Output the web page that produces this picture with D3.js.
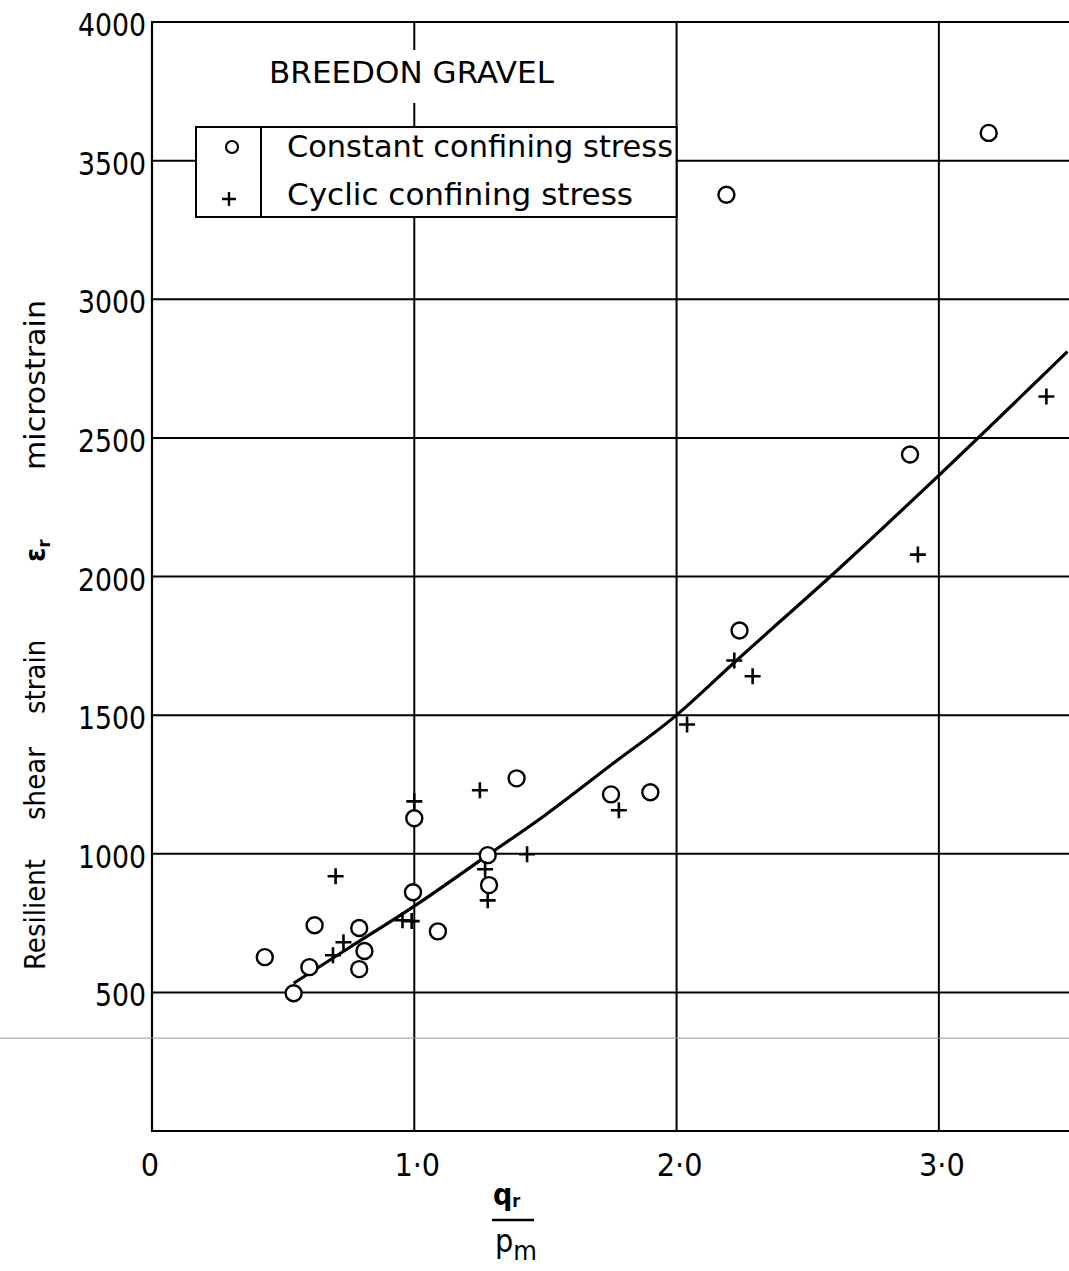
<!DOCTYPE html>
<html>
<head>
<meta charset="utf-8">
<script src="https://cdn.jsdelivr.net/npm/d3@7"></script>
<style>
  body { margin: 0; background: white; }
  svg { display: block; }
  text { font-family: "DejaVu Sans Condensed", "DejaVu Sans", sans-serif; fill: black; }
</style>
</head>
<body>
<svg id="chart" width="1069" height="1271"></svg>
<script>
// values
const constantX = [0.43, 0.60, 0.62, 0.54, 0.79, 0.81, 0.79, 1.00, 0.995, 1.09, 1.28, 1.285, 1.39, 1.75, 1.90, 2.24, 2.19, 2.89, 3.19];
const constantY = [627, 591, 742, 497, 732, 649, 584, 1128, 861, 720, 995, 887, 1272, 1214, 1222, 1805, 3377, 2440, 3600];

const cyclicX = [0.69, 0.73, 0.70, 0.955, 0.99, 1.00, 1.25, 1.27, 1.28, 1.43, 1.78, 2.04, 2.22, 2.29, 2.92, 3.41];
const cyclicY = [634, 681, 919, 760, 757, 1189, 1229, 944, 832, 998, 1157, 1466, 1697, 1640, 2079, 2649];

const fitX = [0.54, 0.75, 1.0, 1.28, 1.5, 1.75, 2.0, 2.22, 2.62, 3.0, 3.49];
const fitY = [533, 660, 811, 995, 1140, 1320, 1500, 1690, 2029, 2365, 2811];

const xTicks = [0, 1, 2, 3];
const xTickLabels = ["0", "1·0", "2·0", "3·0"];
const yTicks = [500, 1000, 1500, 2000, 2500, 3000, 3500, 4000];
const yGrid = [500, 1000, 1500, 2000, 2500, 3000, 3500];

const svg = d3.select("#chart");

const x = d3.scaleLinear().domain([0, 3.5]).range([152, 1070]);
const y = d3.scaleLinear().domain([0, 4000]).range([1131, 22]);

const plot = svg.append("g");

// grid
plot.selectAll(".vgrid").data(xTicks.slice(1))
  .enter().append("line")
  .attr("x1", d => x(d)).attr("x2", d => x(d))
  .attr("y1", y(4000)).attr("y2", y(0))
  .attr("stroke", "black").attr("stroke-width", 2);

plot.selectAll(".hgrid").data(yGrid)
  .enter().append("line")
  .attr("x1", x(0)).attr("x2", 1069)
  .attr("y1", d => y(d)).attr("y2", d => y(d))
  .attr("stroke", "black").attr("stroke-width", 2);

// frame (left, top, bottom)
plot.append("path")
  .attr("d", `M1069,${y(4000)}H${x(0)}V${y(0)}H1069`)
  .attr("fill", "none").attr("stroke", "black").attr("stroke-width", 2.2);

// stray scan line
svg.append("line")
  .attr("x1", 0).attr("x2", 1069)
  .attr("y1", y(335)).attr("y2", y(335))
  .attr("stroke", "#9a9a9a").attr("stroke-width", 1);

// title with gap in the gridline
plot.append("rect")
  .attr("x", 262).attr("y", 50).attr("width", 300).attr("height", 53)
  .attr("fill", "white");
plot.append("text")
  .attr("x", 269).attr("y", 83)
  .attr("font-size", 30)
  .attr("textLength", 285).attr("lengthAdjust", "spacingAndGlyphs")
  .text("BREEDON  GRAVEL");

// legend
const leg = plot.append("g");
leg.append("rect")
  .attr("x", 196).attr("y", 127).attr("width", x(2) - 196).attr("height", 90)
  .attr("fill", "white").attr("stroke", "black").attr("stroke-width", 2);
leg.append("line")
  .attr("x1", 261).attr("x2", 261).attr("y1", 127).attr("y2", 217)
  .attr("stroke", "black").attr("stroke-width", 2);
leg.append("circle")
  .attr("cx", 232).attr("cy", 147).attr("r", 6)
  .attr("fill", "none").attr("stroke", "black").attr("stroke-width", 2.2);
leg.append("path")
  .attr("d", "M222,199H236M229,192V206")
  .attr("stroke", "black").attr("stroke-width", 2.4);
leg.append("text")
  .attr("x", 287).attr("y", 157).attr("font-size", 30)
  .attr("textLength", 386).attr("lengthAdjust", "spacingAndGlyphs")
  .text("Constant  confining  stress");
leg.append("text")
  .attr("x", 287).attr("y", 205).attr("font-size", 30)
  .attr("textLength", 346).attr("lengthAdjust", "spacingAndGlyphs")
  .text("Cyclic  confining  stress");

// fitted curve
const fit = fitX.map((d, i) => [d, fitY[i]]);
plot.append("path")
  .datum(fit)
  .attr("d", d3.line().x(d => x(d[0])).y(d => y(d[1])).curve(d3.curveMonotoneX))
  .attr("fill", "none").attr("stroke", "black").attr("stroke-width", 3.2);

// data points
const constant = constantX.map((d, i) => [d, constantY[i]]);
plot.selectAll(".pt-c").data(constant)
  .enter().append("circle")
  .attr("cx", d => x(d[0])).attr("cy", d => y(d[1])).attr("r", 8)
  .attr("fill", "white").attr("stroke", "black").attr("stroke-width", 2.4);

const cyclic = cyclicX.map((d, i) => [d, cyclicY[i]]);
plot.selectAll(".pt-p").data(cyclic)
  .enter().append("path")
  .attr("d", d => {
    const cx = x(d[0]), cy = y(d[1]);
    return `M${cx - 8},${cy}H${cx + 8}M${cx},${cy - 8}V${cy + 8}`;
  })
  .attr("stroke", "black").attr("stroke-width", 2.6);

// tick labels
svg.selectAll(".ylab").data(yTicks)
  .enter().append("text")
  .attr("x", 146).attr("y", d => y(d) + 14)
  .attr("text-anchor", "end").attr("font-size", 32)
  .attr("textLength", d => String(d).length * 17).attr("lengthAdjust", "spacingAndGlyphs")
  .text(d => d);

svg.selectAll(".xlab").data(xTicks)
  .enter().append("text")
  .attr("x", d => x(d) + (d === 0 ? -2 : 3)).attr("y", 1176)
  .attr("text-anchor", "middle").attr("font-size", 32)
  .text((d, i) => xTickLabels[i]);

// x axis label: q_r / p_m
const xl = svg.append("g");
xl.append("text").attr("x", 493).attr("y", 1205).attr("font-size", 30).attr("font-weight", "bold")
  .text("q").append("tspan").attr("font-size", 18).attr("dy", 2).text("r");
xl.append("line").attr("x1", 492).attr("x2", 534).attr("y1", 1220).attr("y2", 1220)
  .attr("stroke", "black").attr("stroke-width", 2.6);
xl.append("text").attr("x", 495).attr("y", 1252).attr("font-size", 32)
  .text("p").append("tspan").attr("font-size", 27).attr("dy", 8).text("m");

// y axis label, words spaced out along the axis
const yl = svg.append("text")
  .attr("transform", "translate(45,970) rotate(-90)")
  .attr("font-size", 29);
yl.append("tspan").attr("x", 0).text("Resilient");
yl.append("tspan").attr("x", 150).text("shear");
yl.append("tspan").attr("x", 256).text("strain");
yl.append("tspan").attr("x", 408).attr("font-weight", "bold").text("ε");
yl.append("tspan").attr("font-size", 18).attr("dy", 5).attr("font-weight", "bold").text("r");
yl.append("tspan").attr("x", 500).attr("dy", -5)
  .attr("textLength", 170).attr("lengthAdjust", "spacingAndGlyphs").text("microstrain");
</script>
</body>
</html>
